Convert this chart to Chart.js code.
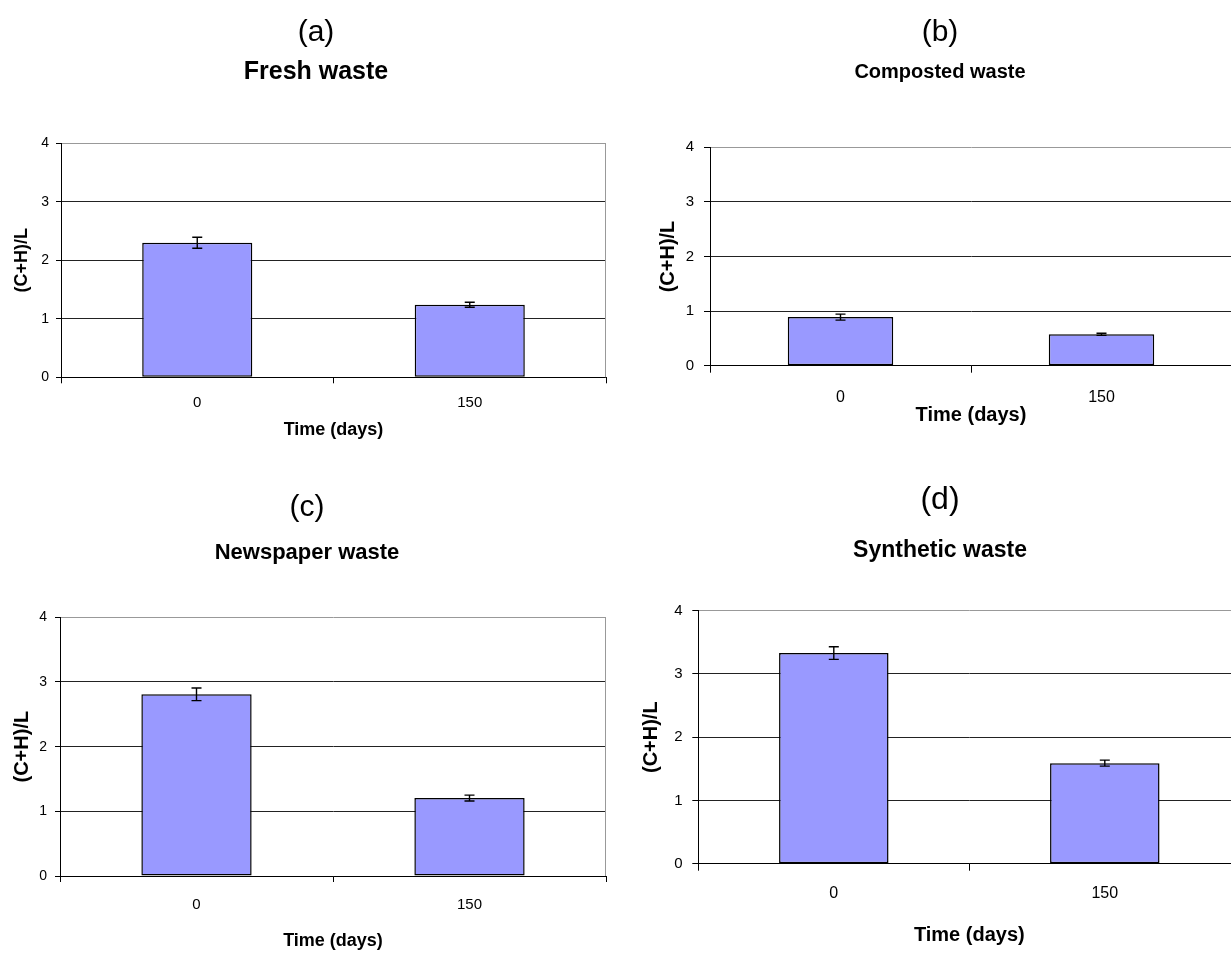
<!DOCTYPE html>
<html>
<head>
<meta charset="utf-8">
<title>(C+H)/L - waste types</title>
<script src="https://cdn.jsdelivr.net/npm/chart.js@4.4.1/dist/chart.umd.min.js"></script>
<style>
  html, body { margin: 0; padding: 0; background: #fff; }
  body { width: 1231px; height: 953px; overflow: hidden; position: relative; }
  canvas { position: absolute; }
</style>
</head>
<body>
<canvas id="chartA"></canvas>
<canvas id="chartB"></canvas>
<canvas id="chartC"></canvas>
<canvas id="chartD"></canvas>

<script>
//--------------------Data-------------------
const days = ["0", "150"];
const yTicks = [0, 1, 2, 3, 4];

const freshValues = [2.30, 1.24];
const freshErrors = [0.094, 0.043];

const compostedValues = [0.89, 0.575];
const compostedErrors = [0.055, 0.02];

const newspaperValues = [2.81, 1.205];
const newspaperErrors = [0.098, 0.046];

const syntheticValues = [3.33, 1.59];
const syntheticErrors = [0.1, 0.047];

//--------------------Style-------------------
const FONT = '"Liberation Sans", Arial, sans-serif';
const BAR_FILL = "#9999FF";

// page position of every panel + the padding needed to land the plot area
const panels = [
  {
    id: "chartA", letter: "(a)", name: "Fresh waste", values: freshValues, errors: freshErrors,
    left: 0, top: 0, width: 620, height: 460, padLeft: 26, padRight: 14,
    plotLeft: 61, plotBottom: 377.3,
    letterSize: 30, letterTop: 15, letterGap: 6, nameSize: 25, nameGap: 56.3,
    yTitleSize: 18, yTitleTop: -14.8, yTickSize: 14, yTickLen: 5, yTickPad: 7,
    xTickSize: 15, xTickLen: 6, xTickPad: 10.7, xTitleSize: 18, xTitleBottom: 19.2
  },
  {
    id: "chartB", letter: "(b)", name: "Composted waste", values: compostedValues, errors: compostedErrors,
    left: 620, top: 0, width: 620, height: 440, padLeft: 28, padRight: 8,
    plotLeft: 710, plotBottom: 365.7,
    letterSize: 30, letterTop: 15, letterGap: 9, nameSize: 20, nameGap: 63.3,
    yTitleSize: 20, yTitleTop: 8, yTickSize: 15, yTickLen: 6, yTickPad: 10,
    xTickSize: 16, xTickLen: 7, xTickPad: 15.7, xTitleSize: 20, xTitleBottom: 12.3
  },
  {
    id: "chartC", letter: "(c)", name: "Newspaper waste", values: newspaperValues, errors: newspaperErrors,
    left: 0, top: 460, width: 620, height: 493, padLeft: 8, padRight: 14,
    plotLeft: 60, plotBottom: 876,
    letterSize: 30, letterTop: 29.5, letterGap: 14.3, nameSize: 22, nameGap: 51.1,
    yTitleSize: 20, yTitleTop: 2, yTickSize: 14, yTickLen: 5, yTickPad: 8,
    xTickSize: 15, xTickLen: 6, xTickPad: 14, xTitleSize: 18, xTitleBottom: 1.5
  },
  {
    id: "chartD", letter: "(d)", name: "Synthetic waste", values: syntheticValues, errors: syntheticErrors,
    left: 620, top: 460, width: 640, height: 493, padLeft: 19.7, padRight: 19.7,
    plotLeft: 698.3, plotBottom: 863.7,
    letterSize: 32, letterTop: 20.5, letterGap: 18, nameSize: 23, nameGap: 46.2,
    yTitleSize: 20, yTitleTop: -0.7, yTickSize: 15, yTickLen: 6, yTickPad: 9.6,
    xTickSize: 16, xTickLen: 7, xTickPad: 13.7, xTitleSize: 20, xTitleBottom: 6
  }
];

//--------------------Plugins-------------------
// whiskers (+/- error) on top of each bar
const errorBars = {
  id: "errorBars",
  afterDatasetsDraw(chart) {
    const ctx = chart.ctx;
    const yScale = chart.scales.y;

    chart.data.datasets.forEach((ds, di) => {
      const meta = chart.getDatasetMeta(di);
      meta.data.forEach((bar, i) => {
        const top = yScale.getPixelForValue(ds.data[i] + ds.errors[i]);
        const bottom = yScale.getPixelForValue(ds.data[i] - ds.errors[i]);
        const half = 5;

        ctx.save();
        ctx.strokeStyle = "#000";
        ctx.lineWidth = 1.4;
        ctx.beginPath();
        ctx.moveTo(bar.x, top);
        ctx.lineTo(bar.x, bottom);
        ctx.moveTo(bar.x - half, top);
        ctx.lineTo(bar.x + half, top);
        ctx.moveTo(bar.x - half, bottom);
        ctx.lineTo(bar.x + half, bottom);
        ctx.stroke();
        ctx.restore();
      });
    });
  }
};

// grey right border of the plot area (excel style)
const plotFrame = {
  id: "plotFrame",
  beforeDatasetsDraw(chart) {
    const { ctx, chartArea } = chart;
    ctx.save();
    ctx.strokeStyle = "#999";
    ctx.lineWidth = 1;
    ctx.beginPath();
    ctx.moveTo(Math.round(chartArea.right) - 0.5, chartArea.top);
    ctx.lineTo(Math.round(chartArea.right) - 0.5, chartArea.bottom);
    ctx.stroke();
    ctx.restore();
  }
};

//--------------------Functions-------------------
function buildChart(p) {
  const canvas = document.getElementById(p.id);
  canvas.width = p.width;
  canvas.height = p.height;
  canvas.style.left = p.left + "px";
  canvas.style.top = p.top + "px";

  const config = {
    type: "bar",
    data: {
      labels: days,
      datasets: [{
        data: p.values,
        errors: p.errors,
        backgroundColor: BAR_FILL,
        borderColor: "#000",
        borderWidth: 1.5,
        borderSkipped: false,
        barPercentage: 0.404,
        categoryPercentage: 1
      }]
    },
    options: {
      responsive: false,
      animation: false,
      devicePixelRatio: 1,
      layout: { padding: { left: p.padLeft, right: p.padRight, top: 0, bottom: 0 } },
      plugins: {
        legend: { display: false },
        tooltip: { enabled: false },
        title: {
          display: true,
          text: p.letter,
          color: "#000",
          font: { family: FONT, size: p.letterSize, weight: "normal", lineHeight: 1.2 },
          padding: { top: p.letterTop, bottom: p.letterGap }
        },
        subtitle: {
          display: true,
          text: p.name,
          color: "#000",
          font: { family: FONT, size: p.nameSize, weight: "bold", lineHeight: 1.2 },
          padding: { top: 0, bottom: p.nameGap }
        }
      },
      scales: {
        x: {
          offset: true,
          grid: {
            offset: true,
            drawOnChartArea: false,
            drawTicks: true,
            tickLength: p.xTickLen,
            tickColor: "#000"
          },
          border: { color: "#000", width: 1 },
          ticks: {
            color: "#000",
            font: { family: FONT, size: p.xTickSize },
            padding: p.xTickPad,
            maxRotation: 0
          },
          title: {
            display: true,
            text: "Time (days)",
            color: "#000",
            font: { family: FONT, size: p.xTitleSize, weight: "bold", lineHeight: 1.2 },
            padding: { top: 0, bottom: p.xTitleBottom }
          },
          afterFit: (scale) => { scale.height = p.top + p.height - p.plotBottom; }
        },
        y: {
          min: 0,
          max: 4,
          afterBuildTicks: (scale) => { scale.ticks = yTicks.map((v) => ({ value: v })); },
          grid: {
            color: (c) => (c.tick && c.tick.value === 4 ? "#999" : "#222"),
            lineWidth: 1,
            tickLength: p.yTickLen,
            tickColor: "#000"
          },
          border: { color: "#000", width: 1 },
          ticks: {
            color: "#000",
            font: { family: FONT, size: p.yTickSize },
            padding: p.yTickPad
          },
          title: {
            display: true,
            text: "(C+H)/L",
            color: "#000",
            font: { family: FONT, size: p.yTitleSize, weight: "bold", lineHeight: 1.2 },
            padding: { top: p.yTitleTop, bottom: 0 }
          },
          afterFit: (scale) => { scale.width = p.plotLeft - (p.left + p.padLeft); }
        }
      }
    },
    plugins: [errorBars, plotFrame]
  };

  return new Chart(canvas, config);
}

panels.forEach(buildChart);
</script>
</body>
</html>
